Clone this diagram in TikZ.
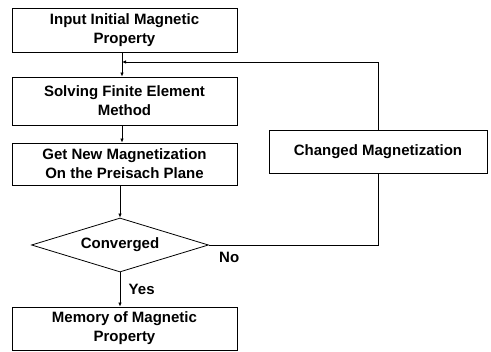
\documentclass[tikz,border=0pt]{standalone}
\usepackage{fontspec}
\setmainfont{Liberation Sans}
\usetikzlibrary{shapes.geometric,arrows.meta}
\begin{document}
\begin{tikzpicture}[x=1pt,y=-1pt,
  font=\fontsize{15}{19}\selectfont\bfseries,
  box/.style={draw,line width=0.8pt,minimum width=225pt,inner sep=0pt,align=center},
  flow/.style={line width=0.8pt,-{Latex[length=4pt,width=3.5pt]}},
  link/.style={line width=0.8pt}]
\useasboundingbox (0,0) rectangle (491,352);
% main column of process steps
\node[box,minimum height=44pt] (inp) at (124.5,30) {Input Initial Magnetic\\Property};
\node[box,minimum height=48pt] (fem) at (124.5,101) {Solving Finite Element\\Method};
\node[box,minimum height=42pt] (mag) at (124.5,164) {Get New Magnetization\\On the Preisach Plane};
\node[draw,line width=0.8pt,diamond,aspect=3.3,minimum width=177pt,minimum height=54pt,inner sep=0pt] (conv) at (120,245) {Converged};
\node[box,minimum height=43pt] (mem) at (124.5,328.5) {Memory of Magnetic\\Property};
% feedback branch
\node[box,minimum width=218pt,minimum height=43pt] (chg) at (378,151.5) {Changed Magnetization};
\coordinate (back) at (122,62);
\draw[flow] (inp.south -| back) -- (fem.north -| back);
\draw[flow] (fem.south -| back) -- (mag.north -| back);
\draw[flow] (mag.south -| conv) -- (conv.north);
\draw[flow] (conv.south) -- node[right=5pt]{Yes} (mem.north -| conv);
\draw[link] (conv.east) -- node[below=3pt,pos=0.12]{No} (conv.east -| chg) -- (chg.south);
\draw[flow] (chg.north) |- (back);
\end{tikzpicture}
\end{document}
